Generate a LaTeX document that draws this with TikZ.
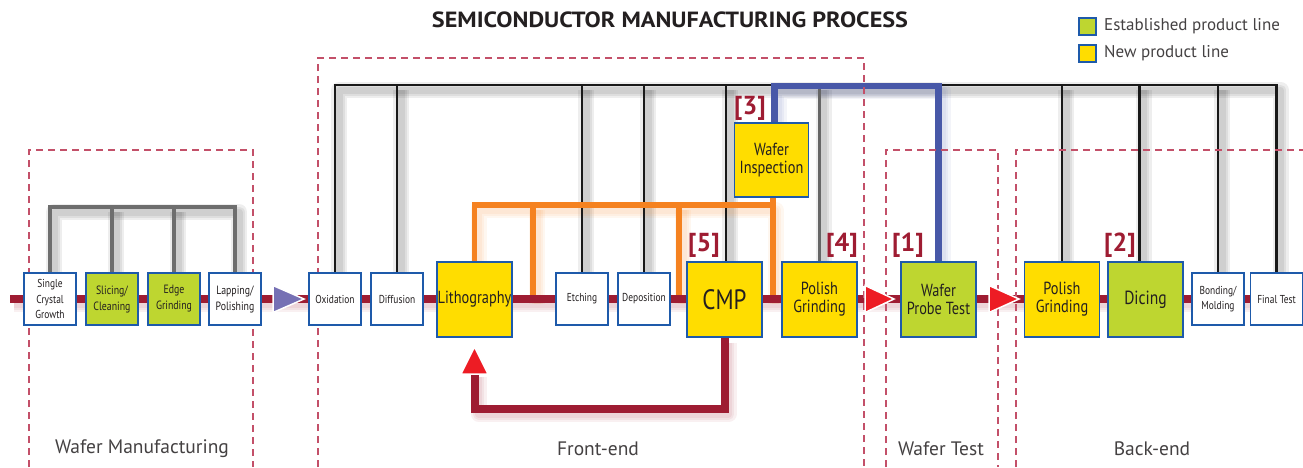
\documentclass[tikz,border=0pt]{standalone}
\usepackage{fontspec}
\setmainfont{PT Sans}
\newfontfamily\condf[FakeStretch=0.82]{PT Sans}
\newfontfamily\widef[FakeStretch=1.1]{PT Sans}
\definecolor{mred}{RGB}{158,28,50}
\definecolor{bbord}{RGB}{30,90,170}
\definecolor{gfill}{RGB}{190,214,48}
\definecolor{yfill}{RGB}{255,221,0}
\definecolor{dashc}{RGB}{195,80,105}
\definecolor{orng}{RGB}{245,130,32}
\definecolor{blu}{RGB}{72,88,168}
\definecolor{purp}{RGB}{118,112,180}
\definecolor{arrred}{RGB}{237,28,36}
\definecolor{txt}{RGB}{35,31,32}
\definecolor{gline}{RGB}{110,110,110}
\pgfdeclarelayer{shd}
\pgfdeclarelayer{lns}
\pgfsetlayers{shd,lns,main}
\newcommand\mysh[2]{\foreach \w in {16,11,7}{\draw[#1,opacity=0.065,line width=\w pt,line join=round,transform canvas={shift={(4pt,-5pt)}}] #2;}}
\begin{document}
\begin{tikzpicture}[x=1pt,y=-1pt,
  every node/.style={text=txt},
  sbox/.style={draw=bbord, line width=1.3pt, fill=white, minimum width=52pt, minimum height=52pt, inner sep=0pt, align=center, font=\condf\fontsize{11.5}{15.5}\selectfont},
  gbox/.style={sbox, fill=gfill, font=\condf\fontsize{12}{16}\selectfont},
  bbox/.style={sbox, minimum width=75pt, minimum height=75pt, fill=yfill, font=\condf\fontsize{17.5}{18}\selectfont},
  bgbox/.style={bbox, fill=gfill},
  num/.style={text=mred, font=\bfseries\fontsize{26}{26}\selectfont, inner sep=0pt},
  reg/.style={draw=dashc, line width=1.1pt, dash pattern=on 7pt off 5pt},
  regl/.style={font=\fontsize{19.5}{20}\selectfont, text=txt!85, inner sep=0pt},
  blk/.style={draw=black!90, line width=2.6pt, line join=miter},
  gry/.style={draw=gline, line width=3.4pt, line join=miter},
  org/.style={draw=orng, line width=5.5pt, line join=miter},
  bluel/.style={draw=blu, line width=6.5pt, line join=miter},
  mainl/.style={draw=mred, line width=8pt},
  legsq/.style={draw=bbord, line width=1.2pt, minimum size=17pt, inner sep=0pt},
  legt/.style={anchor=west, font=\fontsize{17}{17}\selectfont, inner sep=0pt, text=txt!85}
]
\useasboundingbox (0,0) rectangle (1303,467);
% title and legend
\node[font=\widef\bfseries\fontsize{22}{22}\selectfont] (title) at (670,20) {SEMICONDUCTOR MANUFACTURING PROCESS};
\node[legsq, fill=gfill] (lg1) at (1087.5,26.5) {};
\node[legt] (lt1) at (1104,26.5) {Established product line};
\node[legsq, fill=yfill] (lg2) at (1087.5,53.5) {};
\node[legt] (lt2) at (1104,53.5) {New product line};
% regions
\draw[reg] (29,467) -- (29,150) -- (253,150) -- (253,467);
\draw[reg] (318,467) -- (318,58) -- (864,58) -- (864,467);
\draw[reg] (886,467) -- (886,150) -- (998,150) -- (998,467);
\draw[reg] (1016,467) -- (1016,150) -- (1303,150);
\node[regl] (rl1) at (142,449) {Wafer Manufacturing};
\node[regl] (rl2) at (598,449) {Front-end};
\node[regl] (rl3) at (941,449) {Wafer Test};
\node[regl] (rl4) at (1152,449) {Back-end};
% boxes: wafer manufacturing
\node[sbox] (scg) at (50,299) {Single\\Crystal\\Growth};
\node[gbox] (sl) at (112,299) {Slicing/\\Cleaning};
\node[gbox] (eg) at (174,299) {Edge\\Grinding};
\node[sbox, font=\condf\fontsize{12}{16}\selectfont] (lp) at (235,299) {Lapping/\\Polishing};
% front-end
\node[sbox] (ox) at (335,299) {Oxidation};
\node[sbox] (df) at (397,299) {Diffusion};
\node[bbox] (li) at (474.5,299.5) {Lithography};
\node[sbox] (et) at (582,299) {Etching};
\node[sbox] (dp) at (644,299) {Deposition};
\node[bbox, font=\condf\fontsize{28}{28}\selectfont] (cmp) at (724.5,299.5) {CMP};
\node[bbox, minimum width=74pt, minimum height=74pt, font=\condf\fontsize{17.5}{18}\selectfont] (wi) at (771.5,160) {Wafer\\Inspection};
\node[bbox] (pg1) at (819.5,299.5) {Polish\\Grinding};
% wafer test
\node[bgbox] (wpt) at (938.5,299.5) {Wafer\\Probe Test};
% back-end
\node[bbox] (pg2) at (1062,299.5) {Polish\\Grinding};
\node[bgbox, font=\condf\fontsize{19}{18}\selectfont] (dc) at (1145.5,299.5) {Dicing};
\node[sbox] (bm) at (1218,299) {Bonding/\\Molding};
\node[sbox] (ft) at (1276.5,299) {Final Test};
% numbers
\node[num] (n3) at (750,108) {[3]};
\node[num] (n5) at (704,245) {[5]};
\node[num] (n4) at (842,245) {[4]};
\node[num] (n1) at (908,245) {[1]};
\node[num] (n2) at (1120,245) {[2]};
% helper coordinates
\coordinate (wmbus) at (0,207);
\coordinate (fbus) at (0,85);
\coordinate (obus) at (0,205);
\coordinate (bbus) at (0,86);
\coordinate (ml) at (0,299);
\coordinate (mlL) at (10,299);
\coordinate (mlR) at (1303,299);
\coordinate (o1) at (533,205);
\coordinate (o2) at (679,205);
\coordinate (fbb) at (0,409);
\coordinate (fa) at (474.5,372);
% shadows
\begin{pgfonlayer}{shd}
\mysh{black}{(scg.north) -- (scg.north |- wmbus) -- (lp.north |- wmbus) -- (lp.north)}
\mysh{black}{(sl.north) -- (sl.north |- wmbus)}
\mysh{black}{(eg.north) -- (eg.north |- wmbus)}
\mysh{black}{(ox.north) -- (ox.north |- fbus) -- (ft.north |- fbus) -- (ft.north)}
\mysh{black}{(df.north) -- (df.north |- fbus)}
\mysh{black}{(et.north) -- (et.north |- fbus)}
\mysh{black}{(dp.north) -- (dp.north |- fbus)}
\mysh{black}{([xshift=1.5pt]cmp.north) -- ([xshift=1.5pt]cmp.north |- fbus)}
\mysh{black}{(pg1.north) -- (pg1.north |- fbus)}
\mysh{black}{(pg2.north) -- (pg2.north |- fbus)}
\mysh{black}{([xshift=-6pt]dc.north) -- ([xshift=-6pt]dc.north |- fbus)}
\mysh{black}{(bm.north) -- (bm.north |- fbus)}
\mysh{orng}{(li.north) -- (li.north |- obus) -- (wi.south |- obus) -- (wi.south |- ml)}
\mysh{orng}{(o1) -- (o1 |- ml)}
\mysh{orng}{(o2) -- (o2 |- ml)}
\mysh{blu}{([xshift=3pt]wi.north) -- ([xshift=3pt]wi.north |- bbus) -- (wpt.north |- bbus) -- (wpt.north)}
\mysh{mred}{(mlL) -- (mlR)}
\mysh{mred}{(cmp.south) -- (cmp.south |- fbb) -| (fa)}
\end{pgfonlayer}
% lines
\begin{pgfonlayer}{lns}
\draw[gry] (scg.north) -- (scg.north |- wmbus) -- (lp.north |- wmbus) -- (lp.north);
\draw[gry] (sl.north) -- (sl.north |- wmbus);
\draw[gry] (eg.north) -- (eg.north |- wmbus);
\draw[blk] (ox.north) -- (ox.north |- fbus) -- (ft.north |- fbus) -- (ft.north);
\draw[blk] (df.north) -- (df.north |- fbus);
\draw[blk] (et.north) -- (et.north |- fbus);
\draw[blk] (dp.north) -- (dp.north |- fbus);
\draw[blk] ([xshift=1.5pt]cmp.north) -- ([xshift=1.5pt]cmp.north |- fbus);
\draw[blk, draw=black!60] (pg1.north) -- (pg1.north |- fbus);
\draw[blk] (pg2.north) -- (pg2.north |- fbus);
\draw[blk] ([xshift=-6pt]dc.north) -- ([xshift=-6pt]dc.north |- fbus);
\draw[blk] (bm.north) -- (bm.north |- fbus);
\draw[org] (li.north) -- (li.north |- obus) -- (wi.south |- obus);
\draw[org] ([xshift=1.5pt]wi.south) -- ([xshift=1.5pt]wi.south |- ml);
\draw[org] (o1) -- (o1 |- ml);
\draw[org] (o2) -- (o2 |- ml);
\draw[mainl] (mlL) -- (mlR);
\draw[bluel] ([xshift=3pt]wi.north) -- ([xshift=3pt]wi.north |- bbus) -- (wpt.north |- bbus) -- (wpt.north);
\draw[mainl, line join=miter] (cmp.south) -- (cmp.south |- fbb) -| (fa);
\end{pgfonlayer}
% arrowheads
\filldraw[fill=purp, draw=white, line width=1.5pt] (273,285.5) -- (304,299) -- (273,312.5) -- cycle;
\filldraw[fill=arrred, draw=white, line width=1.5pt] (865,285.5) -- (894,299) -- (865,312.5) -- cycle;
\filldraw[fill=arrred, draw=white, line width=1.5pt] (989,285.5) -- (1019,299) -- (989,312.5) -- cycle;
\filldraw[fill=arrred, draw=white, line width=1.5pt] (461,374) -- (474.5,347) -- (488,374) -- cycle;
\end{tikzpicture}
\end{document}
